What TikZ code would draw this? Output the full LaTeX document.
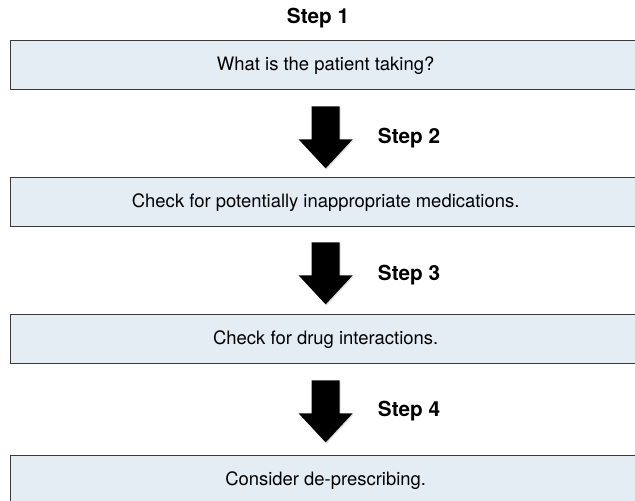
\documentclass[tikz,border=0pt]{standalone}
\usepackage{fontspec}
\setmainfont{TeX Gyre Heros}
\usetikzlibrary{positioning,shadows}
\definecolor{boxfill}{HTML}{E4ECF4}
\definecolor{boxline}{HTML}{3A3A3A}

\tikzset{
  stepbox/.style={draw=boxline,line width=0.8pt,fill=boxfill,minimum width=12.6cm,
    minimum height=0.98cm,inner sep=0pt,anchor=north west,font=\fontsize{10.5}{12}\selectfont},
  steplabel/.style={font=\bfseries\fontsize{11.8}{14}\selectfont,inner sep=0pt},
  fatarrow/.pic={
    \fill[black,drop shadow={opacity=0.25,shadow xshift=0.6pt,shadow yshift=-0.6pt}]
      (-14,0) -- (14,0) -- (14,33) -- (27,33) -- (0,62) -- (-27,33) -- (-14,33) -- cycle;
  }
}

\begin{document}
\begin{tikzpicture}[x=0.02cm,y=-0.02cm]
\useasboundingbox (0,0) rectangle (635,500);

% boxes
\node[stepbox] (s1) at (10,40) {What is the patient taking?};
\node[stepbox] (s2) at (10,177) {Check for potentially inappropriate medications.};
\node[stepbox] (s3) at (10,314) {Check for drug interactions.};
\node[stepbox] (s4) at (10,455) {Consider de-prescribing.};

% labels
\node[steplabel] (l1) at (318,18) {Step 1};
\node[steplabel] (l2) at (409,138) {Step 2};
\node[steplabel] (l3) at (409,275) {Step 3};
\node[steplabel] (l4) at (409,411) {Step 4};

% arrows between the boxes
\pic at ([yshift=-16*0.02cm]s1.south) {fatarrow};
\pic at ([yshift=-15*0.02cm]s2.south) {fatarrow};
\pic at ([yshift=-16*0.02cm]s3.south) {fatarrow};

\end{tikzpicture}
\end{document}
